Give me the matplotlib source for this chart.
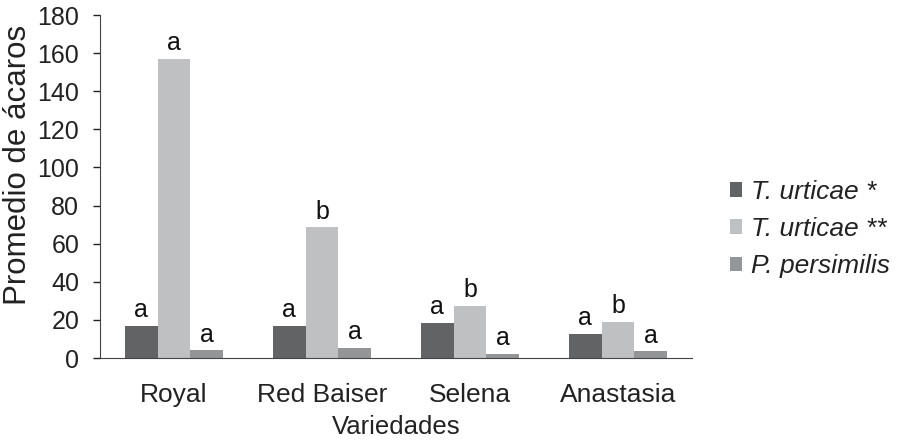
import matplotlib
matplotlib.use("Agg")
import matplotlib.pyplot as plt
import numpy as np

categories = ["Royal", "Red Baiser", "Selena", "Anastasia"]
series_names = ["T. urticae *", "T. urticae **", "P. persimilis"]
tu1 = [17, 17, 18.5, 12.5]
tu2 = [157, 68.5, 27.5, 19]
pp = [4, 5.5, 2, 3.5]
letters_tu1 = ["a", "a", "a", "a"]
letters_tu2 = ["a", "b", "b", "b"]
letters_pp = ["a", "a", "a", "a"]
yticks = [0, 20, 40, 60, 80, 100, 120, 140, 160, 180]

colors = ["#616365", "#bfc0c1", "#949596"]

plt.rcParams['font.family'] = ['Liberation Sans', 'DejaVu Sans']
fig = plt.figure(figsize=(8.97, 4.42), dpi=100)
ax = fig.add_axes([0.1115, 0.19, 0.66, 0.776])

x = np.arange(len(categories))
w = 0.222
data = [tu1, tu2, pp]
letters = [letters_tu1, letters_tu2, letters_pp]
for i, (vals, lab, col, let) in enumerate(zip(data, series_names, colors, letters)):
    pos = x + (i - 1) * w
    ax.bar(pos, vals, width=w, color=col, label=lab)
    for p, v, l in zip(pos, vals, let):
        ax.text(p, v + 2, l, ha='center', va='bottom', fontsize=18, color='#111111')

ax.set_xlim(-0.5, 3.5)
ax.set_ylim(0, 180)
ax.set_yticks(yticks)
ax.set_xticks(x)
ax.set_xticklabels(categories)
ax.tick_params(axis='x', length=0, labelsize=19, pad=18, colors='#222222')
ax.tick_params(axis='y', length=5, width=1, labelsize=18, colors='#222222', direction='out', pad=10)
for s in ['top', 'right']:
    ax.spines[s].set_visible(False)
ax.spines['left'].set_color('#444444')
ax.spines['bottom'].set_color('#444444')
ax.set_xlabel("Variedades", fontsize=18.5, color='#222222', labelpad=6)
ax.set_ylabel("Promedio de ácaros", fontsize=22.5, color='#222222')
ax.yaxis.set_label_coords(-0.114, 0.563)

leg = ax.legend(loc='center left', bbox_to_anchor=(1.046, 0.376), frameon=False,
                borderaxespad=0,
                prop={'size': 19, 'style': 'italic'}, handlelength=0.46, handleheight=0.46,
                handletextpad=0.35, labelspacing=0.5)
for t in leg.get_texts():
    t.set_color('#222222')

fig.savefig("out.png", dpi=100)
